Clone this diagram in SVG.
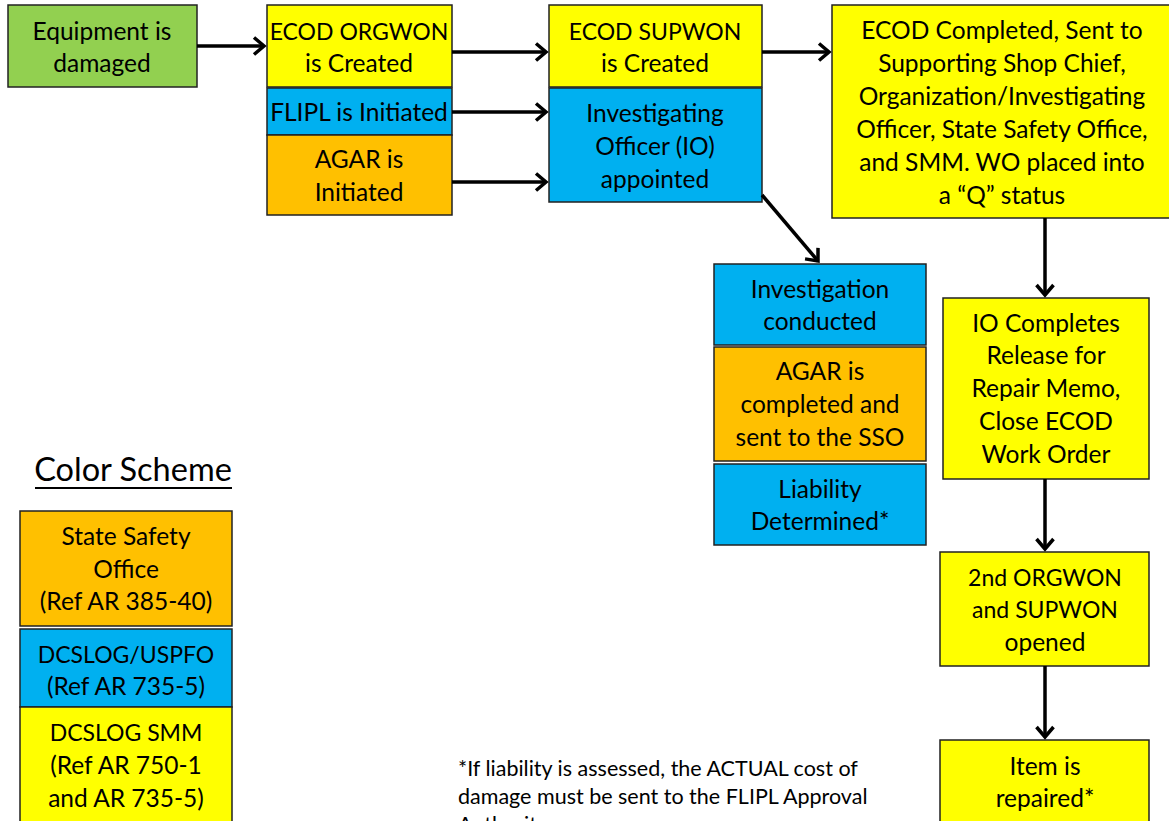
<svg xmlns="http://www.w3.org/2000/svg" width="1169" height="821" viewBox="0 0 1169 821">
<style>
.b{stroke:#222;stroke-width:1.5}
.g{fill:#92D050}.y{fill:#FFFF00}.c{fill:#00B0F0}.o{fill:#FFC000}
text{font-family:Lato,"Open Sans","Liberation Sans",sans-serif;font-size:24.5px;fill:#000;text-anchor:middle}
.u{font-size:23px}
.fn{font-size:21.5px;text-anchor:start}
.cn{stroke:#000;stroke-width:3.5;fill:none;marker-end:url(#ah)}
</style>
<defs>
<marker id="ah" markerWidth="16" markerHeight="22" refX="0" refY="0" orient="auto" markerUnits="userSpaceOnUse" viewBox="-14 -11 16 22" overflow="visible">
<path d="M-10,-8.5 L0,0 L-10,8.5" fill="none" stroke="#000" stroke-width="3.5"/>
</marker>
</defs>
<rect width="1169" height="821" fill="#fff"/>
<g id="n-damaged"><rect class="b g" x="8" y="5" width="189" height="82"/><text x="102" y="40">Equipment is</text><text x="102" y="72">damaged</text></g>
<g id="n-orgwon"><rect class="b y" x="267" y="5" width="185" height="82"/><text class="u" x="359" y="40">ECOD ORGWON</text><text x="359" y="72">is Created</text></g>
<g id="n-flipl"><rect class="b c" x="267" y="88" width="185" height="47"/><text x="359" y="121">FLIPL is Initiated</text></g>
<g id="n-agar1"><rect class="b o" x="267" y="135" width="185" height="80"/><text x="359" y="168">AGAR is</text><text x="359" y="201">Initiated</text></g>
<g id="n-supwon"><rect class="b y" x="549" y="5" width="213" height="82"/><text class="u" x="655" y="40">ECOD SUPWON</text><text x="655" y="72">is Created</text></g>
<g id="n-io"><rect class="b c" x="549" y="88" width="213" height="114"/><text x="655" y="122">Investigating</text><text x="655" y="155">Officer (IO)</text><text x="655" y="188">appointed</text></g>
<g id="n-ecod"><rect class="b y" x="832" y="5" width="340" height="213"/><text x="1002" y="39">ECOD Completed, Sent to</text><text x="1002" y="72">Supporting Shop Chief,</text><text x="1002" y="105">Organization/Investigating</text><text x="1002" y="138">Officer, State Safety Office,</text><text x="1002" y="171">and SMM.  WO placed into</text><text x="1002" y="204">a “Q” status</text></g>
<g id="n-inv"><rect class="b c" x="714" y="264" width="212" height="81"/><text x="820" y="298">Investigation</text><text x="820" y="330">conducted</text></g>
<g id="n-agar2"><rect class="b o" x="714" y="347" width="212" height="114"/><text x="820" y="380">AGAR is</text><text x="820" y="413">completed and</text><text x="820" y="446">sent to the SSO</text></g>
<g id="n-liab"><rect class="b c" x="714" y="464" width="212" height="81"/><text x="820" y="498">Liability</text><text x="820" y="530">Determined*</text></g>
<g id="n-iocomp"><rect class="b y" x="943" y="298" width="206" height="181"/><text x="1046" y="332">IO Completes</text><text x="1046" y="364">Release for</text><text x="1046" y="397">Repair Memo,</text><text x="1046" y="430">Close ECOD</text><text x="1046" y="463">Work Order</text></g>
<g id="n-2nd"><rect class="b y" x="940" y="552" width="209" height="114"/><text class="u" x="1045" y="586">2nd ORGWON</text><text class="u" x="1045" y="618">and SUPWON</text><text x="1045" y="651">opened</text></g>
<g id="n-item"><rect class="b y" x="940" y="740" width="209" height="90"/><text x="1045" y="775">Item is</text><text x="1045" y="807">repaired*</text></g>
<g id="legend">
<text x="133" y="481" style="font-size:32.5px">Color Scheme</text>
<line x1="35" y1="488" x2="232" y2="488" stroke="#000" stroke-width="2"/>
<rect class="b o" x="20" y="511" width="212" height="115"/><text x="126" y="545">State Safety</text><text x="126" y="578">Office</text><text x="126" y="610">(Ref AR 385-40)</text>
<rect class="b c" x="20" y="629" width="212" height="78"/><text class="u" x="126" y="663">DCSLOG/USPFO</text><text x="126" y="695">(Ref AR 735-5)</text>
<rect class="b y" x="20" y="707" width="212" height="120"/><text class="u" x="126" y="741">DCSLOG SMM</text><text x="126" y="774">(Ref AR 750-1</text><text x="126" y="807">and AR 735-5)</text>
</g>
<g id="footnote"><text class="fn" x="458" y="776">*If liability is assessed, the ACTUAL cost of</text><text class="fn" x="458" y="804">damage must be sent to the FLIPL Approval</text><text class="fn" x="458" y="832">Authority</text></g>
<g id="connectors">
<line class="cn" x1="197" y1="46" x2="264" y2="46"/>
<line class="cn" x1="452" y1="52" x2="546" y2="52"/>
<line class="cn" x1="452" y1="112" x2="546" y2="112"/>
<line class="cn" x1="452" y1="182" x2="546" y2="182"/>
<line class="cn" x1="762" y1="52" x2="829" y2="52"/>
<line class="cn" x1="762" y1="195" x2="818" y2="261"/>
<line class="cn" x1="1045" y1="218" x2="1045" y2="295"/>
<line class="cn" x1="1045" y1="479" x2="1045" y2="549"/>
<line class="cn" x1="1045" y1="666" x2="1045" y2="737"/>
</g>
</svg>
